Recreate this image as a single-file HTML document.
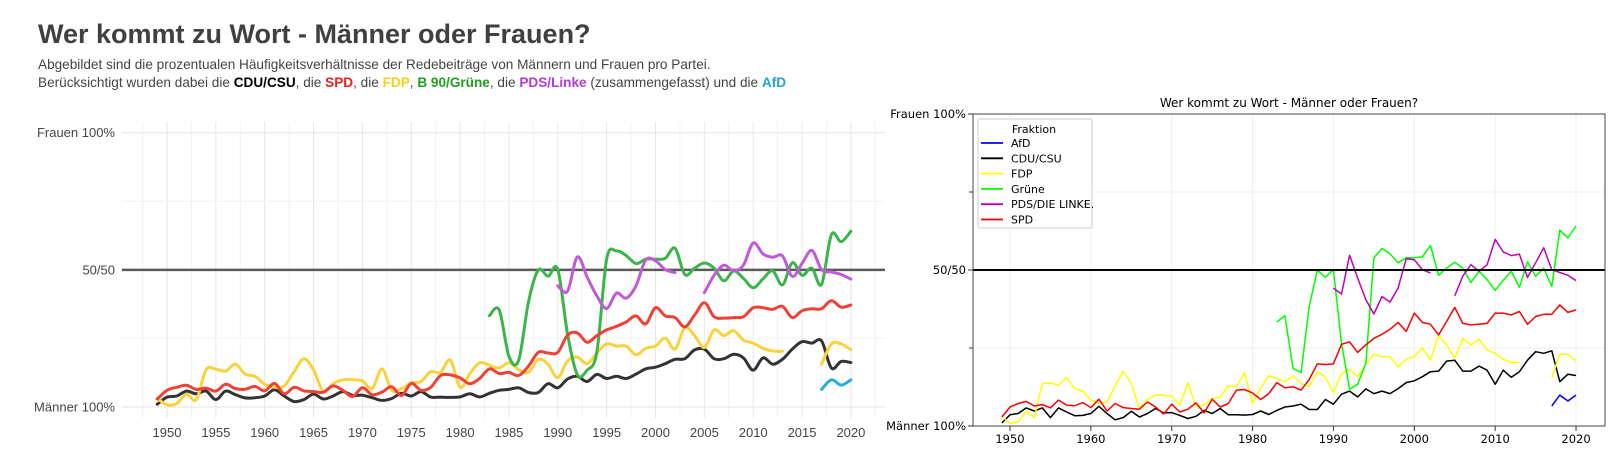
<!DOCTYPE html>
<html><head><meta charset="utf-8"><style>
body{margin:0;background:#fff;width:1611px;height:461px;overflow:hidden;font-family:"Liberation Sans","DejaVu Sans",sans-serif}
</style></head><body>
<svg id="svg" width="1611" height="461" xmlns="http://www.w3.org/2000/svg">
<text x="38" y="43" font-family="Liberation Sans, sans-serif" font-weight="bold" font-size="27" fill="#404040">Wer kommt zu Wort - Männer oder Frauen?</text>
<text x="38" y="69" font-size="13.6" fill="#444">Abgebildet sind die prozentualen Häufigkeitsverhältnisse der Redebeiträge von Männern und Frauen pro Partei.</text>
<text x="38" y="87" font-size="13.6" fill="#444">Berücksichtigt wurden dabei die <tspan font-weight="bold" fill="#000">CDU/CSU</tspan>, die <tspan font-weight="bold" fill="#e8201e">SPD</tspan>, die <tspan font-weight="bold" fill="#f5cf1f">FDP</tspan>, <tspan font-weight="bold" fill="#1fa01f">B 90/Grüne</tspan>, die <tspan font-weight="bold" fill="#b53ad6">PDS/Linke</tspan> (zusammengefasst) und die <tspan font-weight="bold" fill="#1ba6e0">AfD</tspan></text>
<g id="left"></g>
<g id="right"></g>
</svg>
<script>
const startYear = 1949;
const cduVals = [0.01,0.036,0.04,0.058,0.048,0.058,0.027,0.058,0.045,0.033,0.034,0.04,0.063,0.04,0.02,0.027,0.047,0.029,0.04,0.056,0.042,0.043,0.034,0.024,0.031,0.05,0.04,0.056,0.036,0.036,0.035,0.037,0.048,0.037,0.05,0.061,0.064,0.07,0.053,0.053,0.085,0.07,0.102,0.112,0.093,0.119,0.104,0.112,0.104,0.12,0.139,0.145,0.158,0.174,0.176,0.208,0.211,0.176,0.176,0.192,0.179,0.134,0.179,0.156,0.174,0.211,0.238,0.233,0.241,0.142,0.166,0.162];
const spdVals = [0.029,0.061,0.072,0.079,0.064,0.069,0.058,0.083,0.067,0.065,0.075,0.059,0.086,0.048,0.072,0.059,0.056,0.054,0.077,0.061,0.038,0.07,0.045,0.054,0.074,0.042,0.086,0.061,0.072,0.115,0.117,0.106,0.085,0.104,0.139,0.122,0.126,0.115,0.149,0.199,0.197,0.199,0.262,0.27,0.236,0.26,0.281,0.294,0.31,0.332,0.303,0.362,0.332,0.326,0.292,0.335,0.38,0.329,0.324,0.326,0.329,0.362,0.362,0.356,0.367,0.326,0.351,0.358,0.358,0.388,0.364,0.372];
const fdpVals = [0.031,0.008,0.013,0.047,0.027,0.136,0.138,0.131,0.156,0.12,0.112,0.083,0.072,0.077,0.128,0.176,0.136,0.056,0.085,0.099,0.099,0.095,0.067,0.139,0.061,0.067,0.088,0.093,0.129,0.126,0.171,0.072,0.122,0.161,0.152,0.142,0.161,0.136,0.126,0.174,0.156,0.107,0.168,0.182,0.158,0.197,0.23,0.222,0.222,0.19,0.214,0.222,0.251,0.211,0.29,0.26,0.217,0.281,0.26,0.278,0.244,0.233,0.214,0.204,0.203,null,null,null,0.156,0.23,0.23,0.209];
const grueneStart = 1983;
const grueneVals = [0.333,0.354,0.185,0.171,0.383,0.499,0.477,0.501,0.265,0.118,0.134,0.201,0.539,0.569,0.552,0.523,0.539,0.539,0.542,0.579,0.483,0.506,0.525,0.506,0.46,0.496,0.469,0.435,0.467,0.496,0.445,0.526,0.48,0.506,0.447,0.628,0.603,0.641];
const pdsStart = 1990;
const pdsVals = [0.442,0.423,0.547,0.474,0.405,0.359,0.415,0.397,0.442,0.536,0.533,0.501,0.49,null,null,0.417,0.48,0.517,0.496,0.517,0.598,0.558,0.546,0.551,0.476,0.523,0.571,0.501,0.492,0.483,0.466];
const afdStart = 2017;
const afdVals = [0.064,0.099,0.08,0.099];
const xTicksLeft = [1950,1955,1960,1965,1970,1975,1980,1985,1990,1995,2000,2005,2010,2015,2020];
const xTicksRight = [1950,1960,1970,1980,1990,2000,2010,2020];
const yTickLabels = ["Männer 100%","50/50","Frauen 100%"];
const yTickValues = [0,0.5,1];

const NS="http://www.w3.org/2000/svg";
function mk(parent,tag,attrs){const e=document.createElementNS(NS,tag);for(const k in attrs)e.setAttribute(k,attrs[k]);parent.appendChild(e);return e;}

const series=[
 {name:"afd",start:afdStart,vals:afdVals,cl:"#29abe2",cr:"#0000ff",label:"AfD"},
 {name:"cdu-csu",start:startYear,vals:cduVals,cl:"#333333",cr:"#000000",label:"CDU/CSU"},
 {name:"fdp",start:startYear,vals:fdpVals,cl:"#f9d23c",cr:"#ffff00",label:"FDP"},
 {name:"gruene",start:grueneStart,vals:grueneVals,cl:"#3bb44a",cr:"#00ff00",label:"Grüne"},
 {name:"pds-linke",start:pdsStart,vals:pdsVals,cl:"#c05ad8",cr:"#c000c0",label:"PDS/DIE LINKE."},
 {name:"spd",start:startYear,vals:spdVals,cl:"#ef4136",cr:"#ff0000",label:"SPD"}
];
function segments(s){const segs=[];let cur=[];s.vals.forEach((v,i)=>{if(v==null){if(cur.length)segs.push(cur);cur=[];}else cur.push([s.start+i,v]);});if(cur.length)segs.push(cur);return segs;}
function smoothPath(pts){if(pts.length<2)return "";let d="M"+pts[0][0]+","+pts[0][1];for(let i=0;i<pts.length-1;i++){const p0=pts[Math.max(i-1,0)],p1=pts[i],p2=pts[i+1],p3=pts[Math.min(i+2,pts.length-1)];const c1=[p1[0]+(p2[0]-p0[0])/6,p1[1]+(p2[1]-p0[1])/6],c2=[p2[0]-(p3[0]-p1[0])/6,p2[1]-(p3[1]-p1[1])/6];d+=" C"+c1[0].toFixed(1)+","+c1[1].toFixed(1)+" "+c2[0].toFixed(1)+","+c2[1].toFixed(1)+" "+p2[0].toFixed(1)+","+p2[1].toFixed(1);}return d;}

// LEFT chart
const L=document.getElementById('left');
const lx=y=>167+(y-1950)*9.77, ly=v=>407-v*274.3;
for(let y=1947.5;y<=2023.5;y+=2.5){const ln=mk(L,'line',{x1:lx(y),x2:lx(y),y1:122,y2:418,stroke:(y%5===0)?"#e6e6e6":"#f2f2f2","stroke-width":1});}
[0,0.25,0.75,1].forEach(v=>{const ln=mk(L,'line',{x1:122,x2:885,y1:ly(v),y2:ly(v),stroke:(v===0||v===1)?"#e6e6e6":"#f2f2f2","stroke-width":1});});
{const ln=mk(L,'line',{x1:122,x2:885,y1:ly(0.5),y2:ly(0.5),stroke:"#5a5a5a","stroke-width":2.5});}
yTickValues.forEach((v,i)=>{const t=mk(L,'text',{x:115,y:ly(v)+4.5,"text-anchor":"end","font-size":13,fill:"#444"});t.textContent=yTickLabels[i];});
xTicksLeft.forEach(y=>{const t=mk(L,'text',{x:lx(y),y:437,"text-anchor":"middle","font-size":13,fill:"#444"});t.textContent=y;});
series.forEach(s=>{segments(s).forEach(seg=>{const p=mk(L,'path',{d:smoothPath(seg.map(q=>[lx(q[0]),ly(q[1])])),fill:"none",stroke:s.cl,"stroke-width":3,"stroke-linejoin":"round","stroke-linecap":"round"});});});

// RIGHT chart
const R=document.getElementById('right');
const rx=y=>1010+(y-1950)*8.086, ry=v=>426-v*312;
const t0=mk(R,'text',{x:1289,y:107,"text-anchor":"middle","font-size":12,"font-family":"DejaVu Sans, sans-serif",fill:"#000"});t0.textContent="Wer kommt zu Wort - Männer oder Frauen?";
xTicksRight.forEach(y=>{const g=mk(R,'line',{x1:rx(y),x2:rx(y),y1:114,y2:426,stroke:"#efefef","stroke-width":1});});
[0.25,0.75].forEach(v=>{const g=mk(R,'line',{x1:973,x2:1605,y1:ry(v),y2:ry(v),stroke:"#efefef","stroke-width":1});
const tk=mk(R,'line',{x1:969,x2:973,y1:ry(v),y2:ry(v),stroke:"#333","stroke-width":1});});
series.forEach(s=>{segments(s).forEach(seg=>{const p=mk(R,'polyline',{points:seg.map(q=>rx(q[0]).toFixed(1)+","+ry(q[1]).toFixed(1)).join(" "),fill:"none",stroke:s.cr,"stroke-width":1.5,"stroke-linejoin":"round"});});});
{const ln=mk(R,'line',{x1:973,x2:1605,y1:ry(0.5),y2:ry(0.5),stroke:"#000","stroke-width":2});}
{const f=mk(R,'rect',{x:973,y:114,width:632,height:312,fill:"none",stroke:"#444","stroke-width":1});}
yTickValues.forEach((v,i)=>{const tk=mk(R,'line',{x1:968,x2:973,y1:ry(v),y2:ry(v),stroke:"#333"});
const t=mk(R,'text',{x:966,y:ry(v)+4,"text-anchor":"end","font-size":11.5,"font-family":"DejaVu Sans, sans-serif",fill:"#000"});t.textContent=yTickLabels[i];});
xTicksRight.forEach(y=>{const tk=mk(R,'line',{x1:rx(y),x2:rx(y),y1:426,y2:431,stroke:"#333"});
const t=mk(R,'text',{x:rx(y),y:443,"text-anchor":"middle","font-size":11.5,"font-family":"DejaVu Sans, sans-serif",fill:"#000"});t.textContent=y;});
// legend
const LG=mk(R,'g',{});
mk(LG,'rect',{x:978,y:119,width:114,height:109,fill:"#fff",stroke:"#ccc",rx:2});
const lt=mk(LG,'text',{x:1034,y:133,"text-anchor":"middle","font-size":11,"font-family":"DejaVu Sans, sans-serif"});lt.textContent="Fraktion";
series.forEach((s,i)=>{const yy=143+i*15.3;const e=mk(LG,'g',{});
mk(e,'line',{x1:981,x2:1003,y1:yy,y2:yy,stroke:s.cr,"stroke-width":1.8});
const t=mk(e,'text',{x:1011,y:yy+4,"font-size":11,"font-family":"DejaVu Sans, sans-serif"});t.textContent=s.label;});
</script>
</body></html>
